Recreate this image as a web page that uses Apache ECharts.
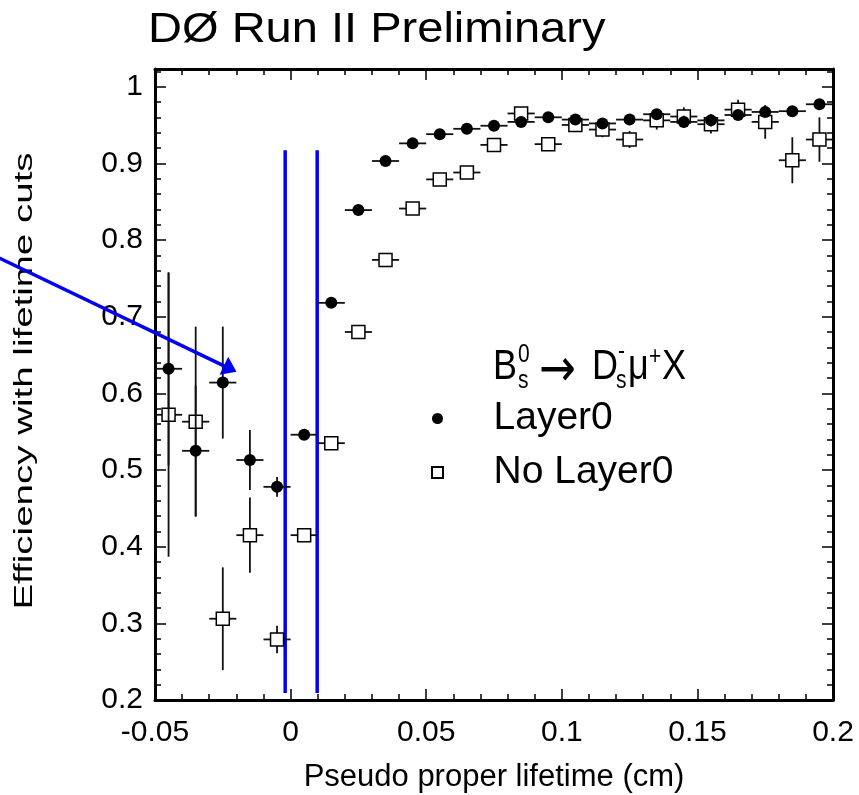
<!DOCTYPE html>
<html>
<head>
<meta charset="utf-8">
<script src="https://cdn.jsdelivr.net/npm/echarts@6/dist/echarts.min.js"></script>
<style>
html, body { margin: 0; padding: 0; background: #fff; }
#main { width: 859px; height: 795px; }
</style>
</head>
<body>
<div id="main"></div>
<script>
// bins in pseudo proper lifetime (cm)
var binCenters = [-0.045, -0.035, -0.025, -0.015, -0.005, 0.005, 0.015, 0.025, 0.035, 0.045,
    0.055, 0.065, 0.075, 0.085, 0.095, 0.105, 0.115, 0.125, 0.135, 0.145,
    0.155, 0.165, 0.175, 0.185, 0.195];
var binHalf = 0.005;

// Layer0 (filled circles)
var layer0Eff = [0.632, 0.525, 0.614, 0.513, 0.478, 0.546, 0.718, 0.839, 0.903, 0.926,
    0.938, 0.945, 0.949, 0.954, 0.960, 0.957, 0.952, 0.957, 0.964, 0.954,
    0.956, 0.963, 0.967, 0.968, 0.977];
var layer0Err = [0.126, 0.085, 0.073, 0.039, 0.013, 0.005, 0.005, 0.004, 0.004, 0.004,
    0.004, 0.004, 0.004, 0.005, 0.005, 0.005, 0.005, 0.006, 0.006, 0.008,
    0.008, 0.007, 0.007, 0.006, 0.007];

// No Layer0 (open squares)
var noLayer0Eff = [0.572, 0.563, 0.306, 0.415, 0.279, 0.415, 0.535, 0.680, 0.774, 0.841,
    0.879, 0.888, 0.924, 0.965, 0.925, 0.950, 0.944, 0.931, 0.956, 0.961,
    0.951, 0.970, 0.954, 0.904, 0.931];
var noLayer0Err = [0.185, 0.124, 0.067, 0.049, 0.018, 0.008, 0.007, 0.007, 0.007, 0.007,
    0.008, 0.008, 0.007, 0.008, 0.009, 0.009, 0.010, 0.011, 0.012, 0.012,
    0.012, 0.013, 0.022, 0.030, 0.029];

// cut lines and arrow annotation (data units)
var cutLinesX = [-0.002, 0.0098];
var cutLinesY = [0.209, 0.917];
var arrowFrom = [-0.1083, 0.778];
var arrowTo = [-0.01995, 0.628];

var xRange = [-0.05, 0.2];
var yRange = [0.2, 1.023];

var FONT = '"Liberation Sans", Arial, Helvetica, sans-serif';
var BLUE = '#0000f5';
var SQUARE = 'path://M0,0L10,0L10,10L0,10Z';

var myChart = echarts.init(document.getElementById('main'));

function pts(eff) {
    return binCenters.map(function (x, i) { return [x, eff[i]]; });
}
function errs(eff, err) {
    return binCenters.map(function (x, i) { return [x, eff[i], err[i]]; });
}

function renderErr(params, api) {
    var x = api.value(0), y = api.value(1), e = api.value(2);
    var l = api.coord([x - binHalf, y]);
    var r = api.coord([x + binHalf, y]);
    var t = api.coord([x, y + e]);
    var b = api.coord([x, y - e]);
    var st = {stroke: '#111', lineWidth: 1.8};
    return {
        type: 'group',
        children: [
            {type: 'line', shape: {x1: l[0], y1: l[1], x2: r[0], y2: r[1]}, style: st},
            {type: 'line', shape: {x1: t[0], y1: t[1], x2: b[0], y2: b[1]}, style: st}
        ]
    };
}

function renderCut(params, api) {
    var a = api.coord([api.value(0), api.value(1)]);
    var b = api.coord([api.value(0), api.value(2)]);
    return {type: 'line', shape: {x1: a[0], y1: a[1], x2: b[0], y2: b[1]},
        style: {stroke: BLUE, lineWidth: 3.5}};
}

function renderArrow(params, api) {
    var p0 = api.coord([api.value(0), api.value(1)]);
    var p1 = api.coord([api.value(2), api.value(3)]);
    var dx = p1[0] - p0[0], dy = p1[1] - p0[1];
    var len = Math.sqrt(dx * dx + dy * dy);
    var ux = dx / len, uy = dy / len;
    var bx = p1[0] - ux * 14, by = p1[1] - uy * 14;
    return {
        type: 'group',
        children: [
            {type: 'line', shape: {x1: p0[0], y1: p0[1], x2: bx + ux * 3, y2: by + uy * 3},
                style: {stroke: BLUE, lineWidth: 3.5}},
            {type: 'polygon', shape: {points: [[p1[0], p1[1]], [bx - uy * 10, by + ux * 10], [bx + uy * 10, by - ux * 10]]},
                style: {fill: BLUE}}
        ]
    };
}

var tickStyle = {color: '#000', width: 1.5};
function xAx(pos, labels) {
    return {
        type: 'value', position: pos, min: xRange[0], max: xRange[1], interval: 0.05,
        axisLine: {show: true, onZero: false, lineStyle: {color: '#000', width: 3}},
        axisTick: {show: true, inside: true, length: 11, lineStyle: tickStyle},
        minorTick: {show: true, splitNumber: 5, length: 6, lineStyle: tickStyle},
        splitLine: {show: false},
        axisLabel: {show: labels, fontSize: 30, color: '#000', fontFamily: FONT, margin: 18},
        name: labels ? 'Pseudo proper lifetime (cm)' : '',
        nameLocation: 'middle', nameGap: 62,
        nameTextStyle: {fontSize: 31, color: '#000', fontFamily: FONT}
    };
}
function yAx(pos, major, labels) {
    return {
        type: 'value', position: pos, min: yRange[0], max: yRange[1], interval: major ? 0.1 : 0.02,
        axisLine: {show: major, onZero: false, lineStyle: {color: '#000', width: 3}},
        axisTick: {show: true, inside: true, length: major ? 11 : 6, lineStyle: tickStyle},
        splitLine: {show: false},
        axisLabel: {show: labels, fontSize: 30, color: '#000', fontFamily: FONT, margin: 12, showMaxLabel: false}
    };
}

myChart.setOption({
    animation: false,
    backgroundColor: '#fff',
    grid: {left: 155, right: 26, top: 69, bottom: 95, containLabel: false, outerBoundsMode: 'none'},
    xAxis: [xAx('bottom', true), xAx('top', false)],
    yAxis: [yAx('left', true, true), yAx('left', false, false), yAx('right', true, false), yAx('right', false, false)],
    legend: {
        data: ['Layer0', 'No Layer0'],
        orient: 'vertical',
        left: 431, top: 399,
        padding: 0,
        itemWidth: 102, itemHeight: 11, itemGap: 15,
        textStyle: {fontSize: 39, color: '#000', fontFamily: FONT}
    },
    graphic: [
        {type: 'text', x: 148, y: 30, scaleX: 1.12,
            style: {text: 'DØ Run II Preliminary', fontSize: 42, fontFamily: FONT, fill: '#000', align: 'left', verticalAlign: 'middle'}},
        {type: 'text', x: 25, y: 381, rotation: Math.PI / 2, scaleX: 1.54,
            style: {text: 'Efficiency with lifetime cuts', fontSize: 25, fontFamily: FONT, fill: '#000', align: 'center', verticalAlign: 'middle'}},
        {type: 'group', x: 493, y: 383, scaleY: 1.2, children: [
            {type: 'text', x: 0, y: -13, style: {text: 'B', fontSize: 36, fontFamily: FONT, fill: '#000', verticalAlign: 'middle'}},
            {type: 'text', x: 25, y: -23, style: {text: '0', fontSize: 21, fontFamily: FONT, fill: '#000', verticalAlign: 'middle'}},
            {type: 'text', x: 25, y: -2, style: {text: 's', fontSize: 21, fontFamily: FONT, fill: '#000', verticalAlign: 'middle'}},
            {type: 'text', x: 46, y: -9, style: {text: '→', fontSize: 44, fontFamily: '"DejaVu Sans", sans-serif', fill: '#000', verticalAlign: 'middle'}},
            {type: 'text', x: 99, y: -13, style: {text: 'D', fontSize: 36, fontFamily: FONT, fill: '#000', verticalAlign: 'middle'}},
            {type: 'text', x: 125, y: -26, style: {text: '-', fontSize: 21, fontFamily: FONT, fill: '#000', verticalAlign: 'middle'}},
            {type: 'text', x: 123, y: -2, style: {text: 's', fontSize: 21, fontFamily: FONT, fill: '#000', verticalAlign: 'middle'}},
            {type: 'text', x: 135, y: -13, style: {text: 'μ', fontSize: 36, fontFamily: FONT, fill: '#000', verticalAlign: 'middle'}},
            {type: 'text', x: 156, y: -22, style: {text: '+', fontSize: 21, fontFamily: FONT, fill: '#000', verticalAlign: 'middle'}},
            {type: 'text', x: 169, y: -13, style: {text: 'X', fontSize: 36, fontFamily: FONT, fill: '#000', verticalAlign: 'middle'}}
        ]}
    ],
    series: [
        {name: 'cuts', type: 'custom', renderItem: renderCut, z: 1, silent: true,
            data: cutLinesX.map(function (x) { return [x, cutLinesY[0], cutLinesY[1]]; })},
        {name: 'noL0err', type: 'custom', renderItem: renderErr, z: 2, silent: true,
            data: errs(noLayer0Eff, noLayer0Err)},
        {name: 'No Layer0', type: 'scatter', z: 3, symbol: SQUARE, symbolSize: 13,
            itemStyle: {color: '#fff', borderColor: '#000', borderWidth: 1.5, opacity: 1},
            data: pts(noLayer0Eff)},
        {name: 'l0err', type: 'custom', renderItem: renderErr, z: 4, silent: true,
            data: errs(layer0Eff, layer0Err)},
        {name: 'Layer0', type: 'scatter', z: 5, symbol: 'circle', symbolSize: 12,
            itemStyle: {color: '#000', opacity: 1},
            data: pts(layer0Eff)},
        {name: 'arrow', type: 'custom', renderItem: renderArrow, z: 6, silent: true, clip: false,
            data: [[arrowFrom[0], arrowFrom[1], arrowTo[0], arrowTo[1]]]}
    ]
});
</script>
</body>
</html>
